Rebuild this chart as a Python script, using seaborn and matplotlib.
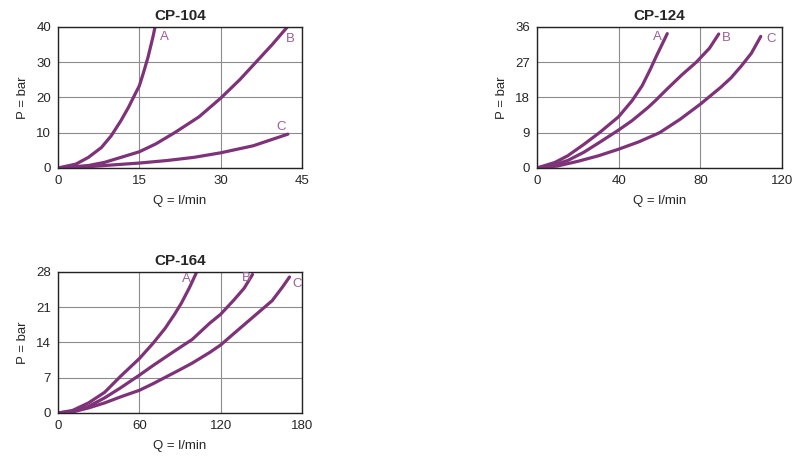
import matplotlib
matplotlib.use("Agg")
import matplotlib.pyplot as plt
import seaborn as sns
import pandas as pd

# CP-104
cp104_a_q = [0, 3.3, 5.6, 8.0, 9.8, 11.6, 13.0, 14.2, 15, 15.7, 16.6, 17.5, 17.9]
cp104_a_p = [0, 1.1, 3.0, 5.8, 9.1, 13.4, 17.2, 20.9, 23.3, 26.7, 31.4, 37.1, 40]
cp104_b_q = [0, 5.6, 8.6, 15, 18, 21.5, 26, 30, 33.5, 36.5, 39.5, 42.3]
cp104_b_p = [0, 0.7, 1.6, 4.6, 6.8, 10, 14.5, 19.8, 25, 30, 35, 40]
cp104_c_q = [0, 5, 8.6, 15, 20, 25, 30, 36, 42.4]
cp104_c_p = [0, 0.3, 0.7, 1.4, 2.1, 3, 4.3, 6.3, 9.6]

# CP-124
cp124_a_q = [0, 8.7, 15, 22.9, 30.8, 40, 46.6, 51.5, 55.5, 58.5, 61.3, 63.8]
cp124_a_p = [0, 1.4, 3.1, 6, 9.1, 13.1, 17.2, 21, 25.2, 28.6, 31.6, 34.3]
cp124_b_q = [0, 8.7, 15, 22.9, 30.8, 40, 46.6, 54.5, 58, 64, 71, 78, 84.5, 89]
cp124_b_p = [0, 0.85, 1.9, 4, 6.6, 9.7, 12.1, 15.5, 17.2, 20.3, 23.8, 27, 30.6, 34.2]
cp124_c_q = [0, 10, 20, 30, 40, 50, 60, 70, 80, 90, 95, 100, 105, 109.6]
cp124_c_p = [0, 0.5, 1.7, 3.1, 4.8, 6.7, 9, 12.4, 16.3, 20.6, 23, 26, 29.3, 33.6]

# CP-164
cp164_a_q = [0, 10.7, 22.5, 34.4, 46.2, 60, 70, 79, 86, 91, 97, 102]
cp164_a_p = [0, 0.5, 2, 4.1, 7.3, 10.8, 13.8, 16.8, 19.6, 21.8, 24.9, 27.8]
cp164_b_q = [0, 10.7, 22.5, 34.4, 46.2, 60, 70, 86, 99, 111.8, 120, 130, 137.4, 143.5]
cp164_b_p = [0, 0.3, 1.3, 3, 5, 7.5, 9.4, 12.3, 14.6, 17.8, 19.6, 22.5, 24.8, 27.5]
cp164_c_q = [0, 10.7, 22.5, 34.4, 46.2, 60, 70, 80, 90, 99, 111.8, 120, 132, 145, 158, 165.6, 170.8]
cp164_c_p = [0, 0.2, 1, 2, 3.2, 4.5, 5.8, 7.2, 8.6, 9.9, 12, 13.5, 16.3, 19.3, 22.3, 25, 27]

charts = [
    ("CP-104", [(cp104_a_q, cp104_a_p), (cp104_b_q, cp104_b_p), (cp104_c_q, cp104_c_p)],
     [0, 15, 30, 45], [0, 10, 20, 30, 40], [(19.6, 37.2), (42.9, 36.5), (41.1, 11.5)]),
    ("CP-124", [(cp124_a_q, cp124_a_p), (cp124_b_q, cp124_b_p), (cp124_c_q, cp124_c_p)],
     [0, 40, 80, 120], [0, 9, 18, 27, 36], [(59.1, 33.4), (92.5, 33.2), (114.7, 32.9)]),
    ("CP-164", [(cp164_a_q, cp164_a_p), (cp164_b_q, cp164_b_p), (cp164_c_q, cp164_c_p)],
     [0, 60, 120, 180], [0, 7, 14, 21, 28], [(94.4, 26.7), (138.7, 26.8), (176.4, 25.7)]),
]
curve_names = ["A", "B", "C"]

sns.set_style("white")
plt.rcParams["font.family"] = ["Liberation Sans", "DejaVu Sans"]

line_color = "#7e3278"
label_color = "#9a5f98"

fig = plt.figure(figsize=(8.01, 4.62), dpi=100)
positions = [
    [0.0724, 0.6364, 0.3046, 0.3052],
    [0.6704, 0.6364, 0.3059, 0.3052],
    [0.0724, 0.1061, 0.3046, 0.3052],
]

for (title, curves, xt, yt, lbl_pos), pos in zip(charts, positions):
    ax = fig.add_axes(pos)
    for name, (q, p), (lx, ly) in zip(curve_names, curves, lbl_pos):
        df = pd.DataFrame({"Q": q, "P": p})
        sns.lineplot(data=df, x="Q", y="P", ax=ax, color=line_color, lw=2.3,
                     sort=False, estimator=None)
        ax.text(lx, ly, name, color=label_color, fontsize=9.5, ha="center", va="center")
    ax.set_xlim(xt[0], xt[-1])
    ax.set_ylim(yt[0], yt[-1])
    ax.set_xticks(xt)
    ax.set_yticks(yt)
    ax.grid(True, color="#8c8c8c", lw=0.8)
    for s in ax.spines.values():
        s.set_color("#222222")
        s.set_linewidth(1.0)
    ax.tick_params(labelsize=9.5, length=0, pad=5)
    ax.set_xlabel("Q = l/min", fontsize=9.5, labelpad=6)
    ax.set_ylabel("P = bar", fontsize=9.5, labelpad=5)
    ax.set_title(title, fontsize=11, fontweight="bold", pad=5)

fig.savefig("out.png", dpi=100)
